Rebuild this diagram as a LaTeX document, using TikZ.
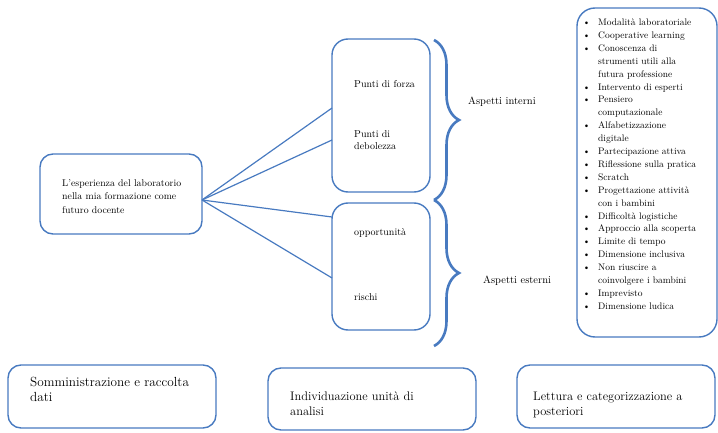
\documentclass[tikz,border=0pt]{standalone}
\usetikzlibrary{decorations.pathreplacing}
\definecolor{bl}{RGB}{72,122,192}
\begin{document}
\begin{tikzpicture}[x=1pt,y=-1pt,
  rbox/.style={draw=bl,line width=1.4pt,rounded corners=13pt},
  lab/.style={anchor=base west,inner sep=0pt,font=\fontsize{9.8}{14}\selectfont,align=left},
  mlab/.style={anchor=base west,inner sep=0pt,font=\fontsize{10}{13}\selectfont,align=left},
  blab/.style={anchor=base west,inner sep=0pt,font=\fontsize{12.4}{15}\selectfont,align=left},
  fan/.style={draw=bl,line width=1.2pt},
  brc/.style={draw=bl,line width=2.6pt,decorate,decoration={brace,amplitude=25pt}}]
\useasboundingbox (0,0) rectangle (718,433);
% left box
\draw[rbox] (40,154) rectangle (202,234);
\node[lab] (lt) at (62,214) {L'esperienza del laboratorio\\nella mia formazione come\\futuro docente};
\coordinate (o) at (202,200);
% middle boxes
\draw[rbox,rounded corners=16pt] (332,39) rectangle (430,192);
\draw[rbox,rounded corners=16pt] (332,203) rectangle (430,330);
\node[mlab] (pf) at (354,88) {Punti di forza};
\node[mlab] (pd) at (354,150) {Punti di\\debolezza};
\node[mlab] (op) at (354,235) {opportunità};
\node[mlab] (ri) at (354,300) {rischi};
\coordinate (a1) at (332,108);
\coordinate (a2) at (332,140);
\coordinate (a3) at (332,217);
\coordinate (a4) at (332,278);
\draw[fan] (o) -- (a1);
\draw[fan] (o) -- (a2);
\draw[fan] (o) -- (a3);
\draw[fan] (o) -- (a4);
% braces
\coordinate (b1s) at (434,40);
\coordinate (b1e) at (434,200);
\coordinate (b2s) at (434,200);
\coordinate (b2e) at (434,346);
\draw[brc] (b1s) -- (b1e);
\draw[brc] (b2s) -- (b2e);
\node[mlab,font=\fontsize{10.5}{13}\selectfont] (ai) at (468,105) {Aspetti interni};
\node[mlab,font=\fontsize{10.5}{13}\selectfont] (ae) at (483,283) {Aspetti esterni};
% right list box
\draw[rbox,rounded corners=18pt] (577,8) rectangle (717,337);
\node[anchor=north west,inner sep=0pt,text width=134pt,font=\fontsize{9.5}{12.9}\selectfont] (lst) at (582,12.5) {%
\begin{list}{\textbullet}{\leftmargin=16pt\labelwidth=8pt\labelsep=8pt\itemsep=0pt\parsep=0pt\topsep=0pt\partopsep=0pt}
\raggedright
\item Modalità laboratoriale
\item Cooperative learning
\item Conoscenza di\\strumenti utili alla\\futura professione
\item Intervento di esperti
\item Pensiero\\computazionale
\item Alfabetizzazione\\digitale
\item Partecipazione attiva
\item Riflessione sulla pratica
\item Scratch
\item Progettazione attività\\con i bambini
\item Difficoltà logistiche
\item Approccio alla scoperta
\item Limite di tempo
\item Dimensione inclusiva
\item Non riuscire a\\coinvolgere i bambini
\item Imprevisto
\item Dimensione ludica
\end{list}};
% bottom boxes
\draw[rbox] (8,365) rectangle (216,428);
\node[blab,font=\fontsize{13.2}{15}\selectfont] (s1) at (30,401) {Somministrazione e raccolta\\dati};
\draw[rbox] (268,368) rectangle (476,430);
\node[blab] (s2) at (290,415) {Individuazione unità di\\analisi};
\draw[rbox] (517,365) rectangle (715,428);
\node[blab] (s3) at (533,415) {Lettura e categorizzazione a\\posteriori};
\end{tikzpicture}
\end{document}
